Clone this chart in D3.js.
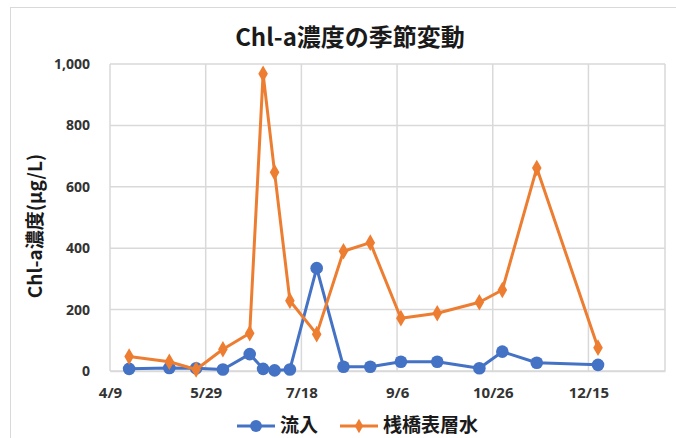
<!DOCTYPE html>
<html>
<head>
<meta charset="utf-8">
<script src="https://cdn.jsdelivr.net/npm/d3@7"></script>
<style>
  html, body { margin: 0; padding: 0; background: #fff; }
  svg { display: block; font-family: "Noto Sans CJK JP", "Noto Sans", sans-serif; }
</style>
</head>
<body>
<svg id="chart" width="676" height="438"></svg>
<script>
// Sampling dates and Chl-a concentrations (μg/L)
const sampleDates = [
  "2019-04-19", "2019-05-10", "2019-05-24", "2019-06-07", "2019-06-21",
  "2019-06-28", "2019-07-04", "2019-07-12", "2019-07-26", "2019-08-09",
  "2019-08-23", "2019-09-08", "2019-09-27", "2019-10-19", "2019-10-31",
  "2019-11-18", "2019-12-20"
];
const inflow = [7, 10, 9, 5, 55, 7, 2, 5, 335, 14, 14, 30, 30, 9, 63, 27, 20];
const pierSurface = [47, 30, 5, 71, 123, 968, 647, 229, 120, 390, 418, 172, 188, 224, 264, 661, 76];

const seriesNames = ["流入", "桟橋表層水"];
const seriesColors = ["#4472C4", "#ED7D31"];
const xTickDates = ["2019-04-09", "2019-05-29", "2019-07-18", "2019-09-06", "2019-10-26", "2019-12-15"];
const xDomain = ["2019-04-09", "2020-01-24"];
const yTicks = [0, 200, 400, 600, 800, 1000];
const titleText = "Chl-a濃度の季節変動";
const yTitleText = "Chl-a濃度(μg/L)";

const parse = d3.timeParse("%Y-%m-%d");
const svg = d3.select("#chart");

// Outer chart frame
svg.append("rect")
  .attr("x", 10.5).attr("y", 7.5)
  .attr("width", 680).attr("height", 440)
  .attr("fill", "#fff").attr("stroke", "#d9d9d9").attr("stroke-width", 1);

const plot = { left: 110, right: 665, top: 64, bottom: 371 };

const x = d3.scaleTime()
  .domain(xDomain.map(parse))
  .range([plot.left, plot.right]);
const y = d3.scaleLinear()
  .domain([0, 1000])
  .range([plot.bottom, plot.top]);

// Gridlines
const grid = svg.append("g");
grid.selectAll("line.h").data(yTicks).join("line")
  .attr("x1", plot.left).attr("x2", plot.right)
  .attr("y1", d => y(d)).attr("y2", d => y(d))
  .attr("stroke", "#d9d9d9").attr("stroke-width", 1.5);
grid.selectAll("line.v").data(xTickDates.map(parse)).join("line")
  .attr("x1", d => x(d)).attr("x2", d => x(d))
  .attr("y1", plot.top).attr("y2", plot.bottom)
  .attr("stroke", "#d9d9d9").attr("stroke-width", 1.5);
grid.append("line")
  .attr("x1", plot.right).attr("x2", plot.right)
  .attr("y1", plot.top).attr("y2", plot.bottom)
  .attr("stroke", "#d9d9d9").attr("stroke-width", 1.5);

const tickFont = "'Open Sans', 'Noto Sans', sans-serif";

// Y axis
const yAxis = svg.append("g")
  .attr("transform", `translate(${plot.left},0)`)
  .call(d3.axisLeft(y).tickValues(yTicks).tickSize(0).tickPadding(20)
    .tickFormat(d3.format(",")));
yAxis.select(".domain").remove();
yAxis.selectAll("text")
  .attr("font-size", 14).attr("font-weight", "bold").attr("fill", "#333")
  .attr("font-family", tickFont);

// X axis
const xAxis = svg.append("g")
  .attr("transform", `translate(0,${plot.bottom})`)
  .call(d3.axisBottom(x).tickValues(xTickDates.map(parse)).tickSize(0).tickPadding(16)
    .tickFormat(d3.timeFormat("%-m/%-d")));
xAxis.select(".domain").attr("stroke", "#d9d9d9").attr("stroke-width", 1.5);
xAxis.selectAll("text")
  .attr("font-size", 15).attr("font-weight", "bold").attr("fill", "#333")
  .attr("font-family", tickFont);

// Series
const seriesValues = [inflow, pierSurface];
const line = d3.line().x(d => x(d.date)).y(d => y(d.value));

seriesValues.forEach((vals, i) => {
  const pts = vals.map((v, j) => ({ date: parse(sampleDates[j]), value: v }));
  const g = svg.append("g");
  g.append("path").datum(pts)
    .attr("d", line).attr("fill", "none")
    .attr("stroke", seriesColors[i]).attr("stroke-width", 3)
    .attr("stroke-linejoin", "round");
  const sym = i === 0
    ? d3.symbol().type(d3.symbolCircle).size(125)
    : d3.symbol().type(d3.symbolDiamond).size(80);
  g.selectAll("path.pt").data(pts).join("path")
    .attr("class", "pt")
    .attr("transform", d => `translate(${x(d.date)},${y(d.value)})`)
    .attr("d", sym).attr("fill", seriesColors[i]);
});

// Title
svg.append("text")
  .attr("x", 350).attr("y", 46)
  .attr("text-anchor", "middle")
  .attr("font-size", 24).attr("font-weight", "bold").attr("fill", "#1a1a1a")
  .text(titleText);

// Y axis title
svg.append("text")
  .attr("transform", "translate(42,226) rotate(-90)")
  .attr("text-anchor", "middle")
  .attr("font-size", 19).attr("font-weight", "bold").attr("fill", "#1a1a1a")
  .text(yTitleText);

// Legend
const legendItems = [
  { name: seriesNames[0], color: seriesColors[0], x: 237, type: d3.symbolCircle, size: 110 },
  { name: seriesNames[1], color: seriesColors[1], x: 340, type: d3.symbolDiamond, size: 60 }
];
const legend = svg.append("g");
legendItems.forEach(it => {
  const ly = 426;
  legend.append("line")
    .attr("x1", it.x).attr("x2", it.x + 38)
    .attr("y1", ly).attr("y2", ly)
    .attr("stroke", it.color).attr("stroke-width", 3);
  legend.append("path")
    .attr("transform", `translate(${it.x + 19},${ly})`)
    .attr("d", d3.symbol().type(it.type).size(it.size))
    .attr("fill", it.color);
  legend.append("text")
    .attr("x", it.x + 43).attr("y", ly + 6)
    .attr("font-size", 19).attr("font-weight", "bold").attr("fill", "#1a1a1a")
    .text(it.name);
});
</script>
</body>
</html>
